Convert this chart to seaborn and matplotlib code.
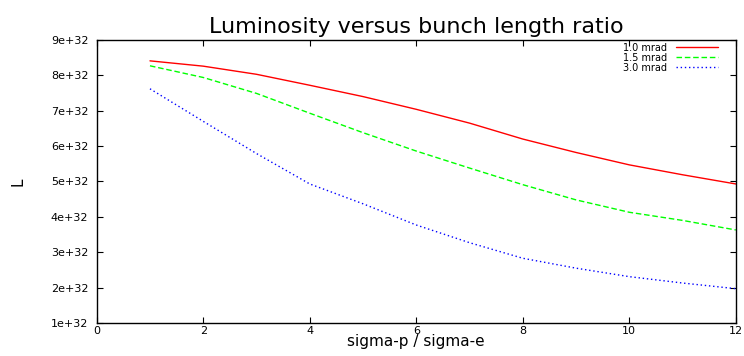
import numpy as np
import pandas as pd
import matplotlib
matplotlib.use("Agg")
import matplotlib.pyplot as plt
import seaborn as sns

# ratio sigma-p / sigma-e
ratio = [1, 2, 3, 4, 5, 6, 7, 8, 9, 10, 11, 12]

# luminosity in units of 1e32 for each crossing angle
lumi_10 = [8.41, 8.26, 8.03, 7.72, 7.40, 7.04, 6.65, 6.20, 5.82, 5.47, 5.19, 4.93]
lumi_15 = [8.27, 7.94, 7.49, 6.93, 6.38, 5.86, 5.38, 4.91, 4.48, 4.13, 3.90, 3.63]
lumi_30 = [7.62, 6.70, 5.79, 4.93, 4.37, 3.77, 3.27, 2.83, 2.55, 2.31, 2.13, 1.97]

labels = ["1.0 mrad", "1.5 mrad", "3.0 mrad"]
colors = ["#ff0000", "#00ff00", "#0000ff"]

df = pd.DataFrame({
    "ratio": ratio * 3,
    "L": np.array(lumi_10 + lumi_15 + lumi_30) * 1e32,
    "angle": [labels[0]] * 12 + [labels[1]] * 12 + [labels[2]] * 12,
})

sns.set_style("ticks", {"axes.edgecolor": "black", "text.color": "black",
                        "axes.labelcolor": "black", "xtick.color": "black",
                        "ytick.color": "black"})
plt.rcParams["font.family"] = ["DejaVu Sans"]

fig = plt.figure(figsize=(7.44, 3.56), dpi=100)
ax = fig.add_axes([0.130, 0.0927, 0.859, 0.795])

sns.lineplot(data=df, x="ratio", y="L", hue="angle", style="angle",
             palette=dict(zip(labels, colors)),
             dashes={labels[0]: "", labels[1]: (4, 2), labels[2]: (1, 2)},
             linewidth=1.0, ax=ax)

ax.set_xlim(0, 12)
ax.set_ylim(1e32, 9e32)
ax.set_xticks(range(0, 13, 2))
ax.set_yticks(np.arange(1, 10) * 1e32)
ax.set_yticklabels([f"{i}e+32" for i in range(1, 10)])
ax.tick_params(direction="in", top=True, right=True, labelsize=8, length=4,
               width=0.8)
ax.tick_params(axis="x", pad=2)
ax.tick_params(axis="y", pad=6)
for s in ax.spines.values():
    s.set_linewidth(1.0)

ax.set_xlabel("sigma-p / sigma-e", fontsize=11, labelpad=-1)
ax.set_ylabel("L", fontsize=11, labelpad=18)
ax.set_title("Luminosity versus bunch length ratio", fontsize=16, pad=5)

ax.legend(loc="upper right", frameon=False, markerfirst=False, fontsize=7,
          handlelength=4.3, handletextpad=0.9, labelspacing=0.0,
          borderpad=0, borderaxespad=0, bbox_to_anchor=(0.972, 0.99))

fig.savefig("out.png", dpi=100)
